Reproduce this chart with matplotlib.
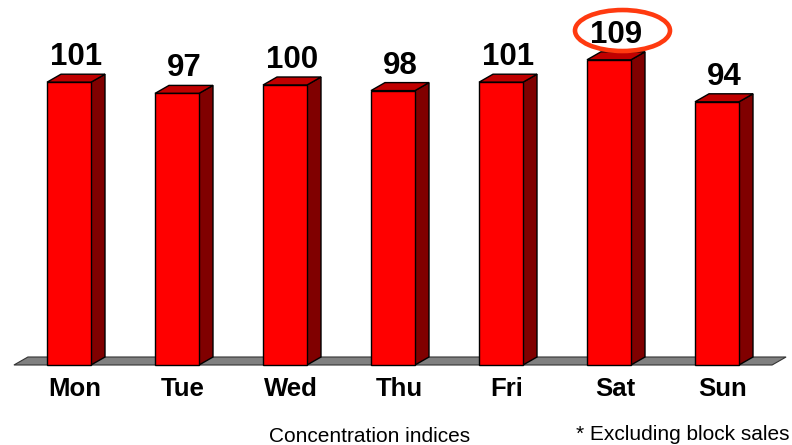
import matplotlib
matplotlib.use("Agg")
import matplotlib.pyplot as plt
from matplotlib.patches import Polygon, Ellipse

plt.rcParams["font.family"] = ["Liberation Sans", "DejaVu Sans"]

days = ["Mon", "Tue", "Wed", "Thu", "Fri", "Sat", "Sun"]
values = [101, 97, 100, 98, 101, 109, 94]
highlight = "Sat"

# figure is 792x445 px, one x unit = 108 px, one y unit = 2.8 px
fig = plt.figure(figsize=(7.92, 4.45), dpi=100)
ax = fig.add_axes([0, 0, 1, 1])
ax.set_xlim(-69 / 108, (792 - 69) / 108)
ax.set_ylim(-80 / 2.8, (445 - 80) / 2.8)
ax.axis("off")

w = 44 / 108      # bar width
dx = 14 / 108     # depth offset x
dy = 8 / 2.8      # depth offset y
x = list(range(len(days)))

# floor
x0, x1 = -0.51, len(days) - 0.49
ax.add_patch(Polygon([(x0, 0), (x1, 0), (x1 + dx, dy), (x0 + dx, dy)],
                     closed=True, facecolor="#808080", edgecolor="#333333",
                     lw=0.8, zorder=1))

# bars: front, side, top
ax.bar(x, values, width=w, color="#ff0000", edgecolor="black", lw=1, zorder=3)
for xi, v in zip(x, values):
    r = xi + w / 2
    l = xi - w / 2
    ax.add_patch(Polygon([(r, 0), (r + dx, dy), (r + dx, v + dy), (r, v)],
                         closed=True, facecolor="#800000", edgecolor="black",
                         lw=1, zorder=2))
    ax.add_patch(Polygon([(l, v), (r, v), (r + dx, v + dy), (l + dx, v + dy)],
                         closed=True, facecolor="#c00000", edgecolor="black",
                         lw=1, zorder=2))
    ax.text(xi + dx / 2, v + dy + 3.2, str(v), ha="center", va="baseline",
            fontsize=22.5, fontweight="bold", color="black")

for xi, d in zip(x, days):
    ax.text(xi + 0.055, -11.1, d, ha="center", va="baseline",
            fontsize=18.5, fontweight="bold", color="black")

# circle around the highlighted value
hi = days.index(highlight)
ax.add_patch(Ellipse((hi + 0.125, values[hi] + dy + 7.6), 95 / 108, 41 / 2.8,
                     facecolor="none", edgecolor="#ff3a10", lw=3.3, zorder=4))

ax.text((370 - 69) / 108, (445 - 441.5 - 80) / 2.8, "Concentration indices",
        ha="center", va="baseline", fontsize=15)
ax.text((790 - 69) / 108, (445 - 439.5 - 80) / 2.8, "* Excluding block sales",
        ha="right", va="baseline", fontsize=15)

fig.savefig("out.png", dpi=100)
